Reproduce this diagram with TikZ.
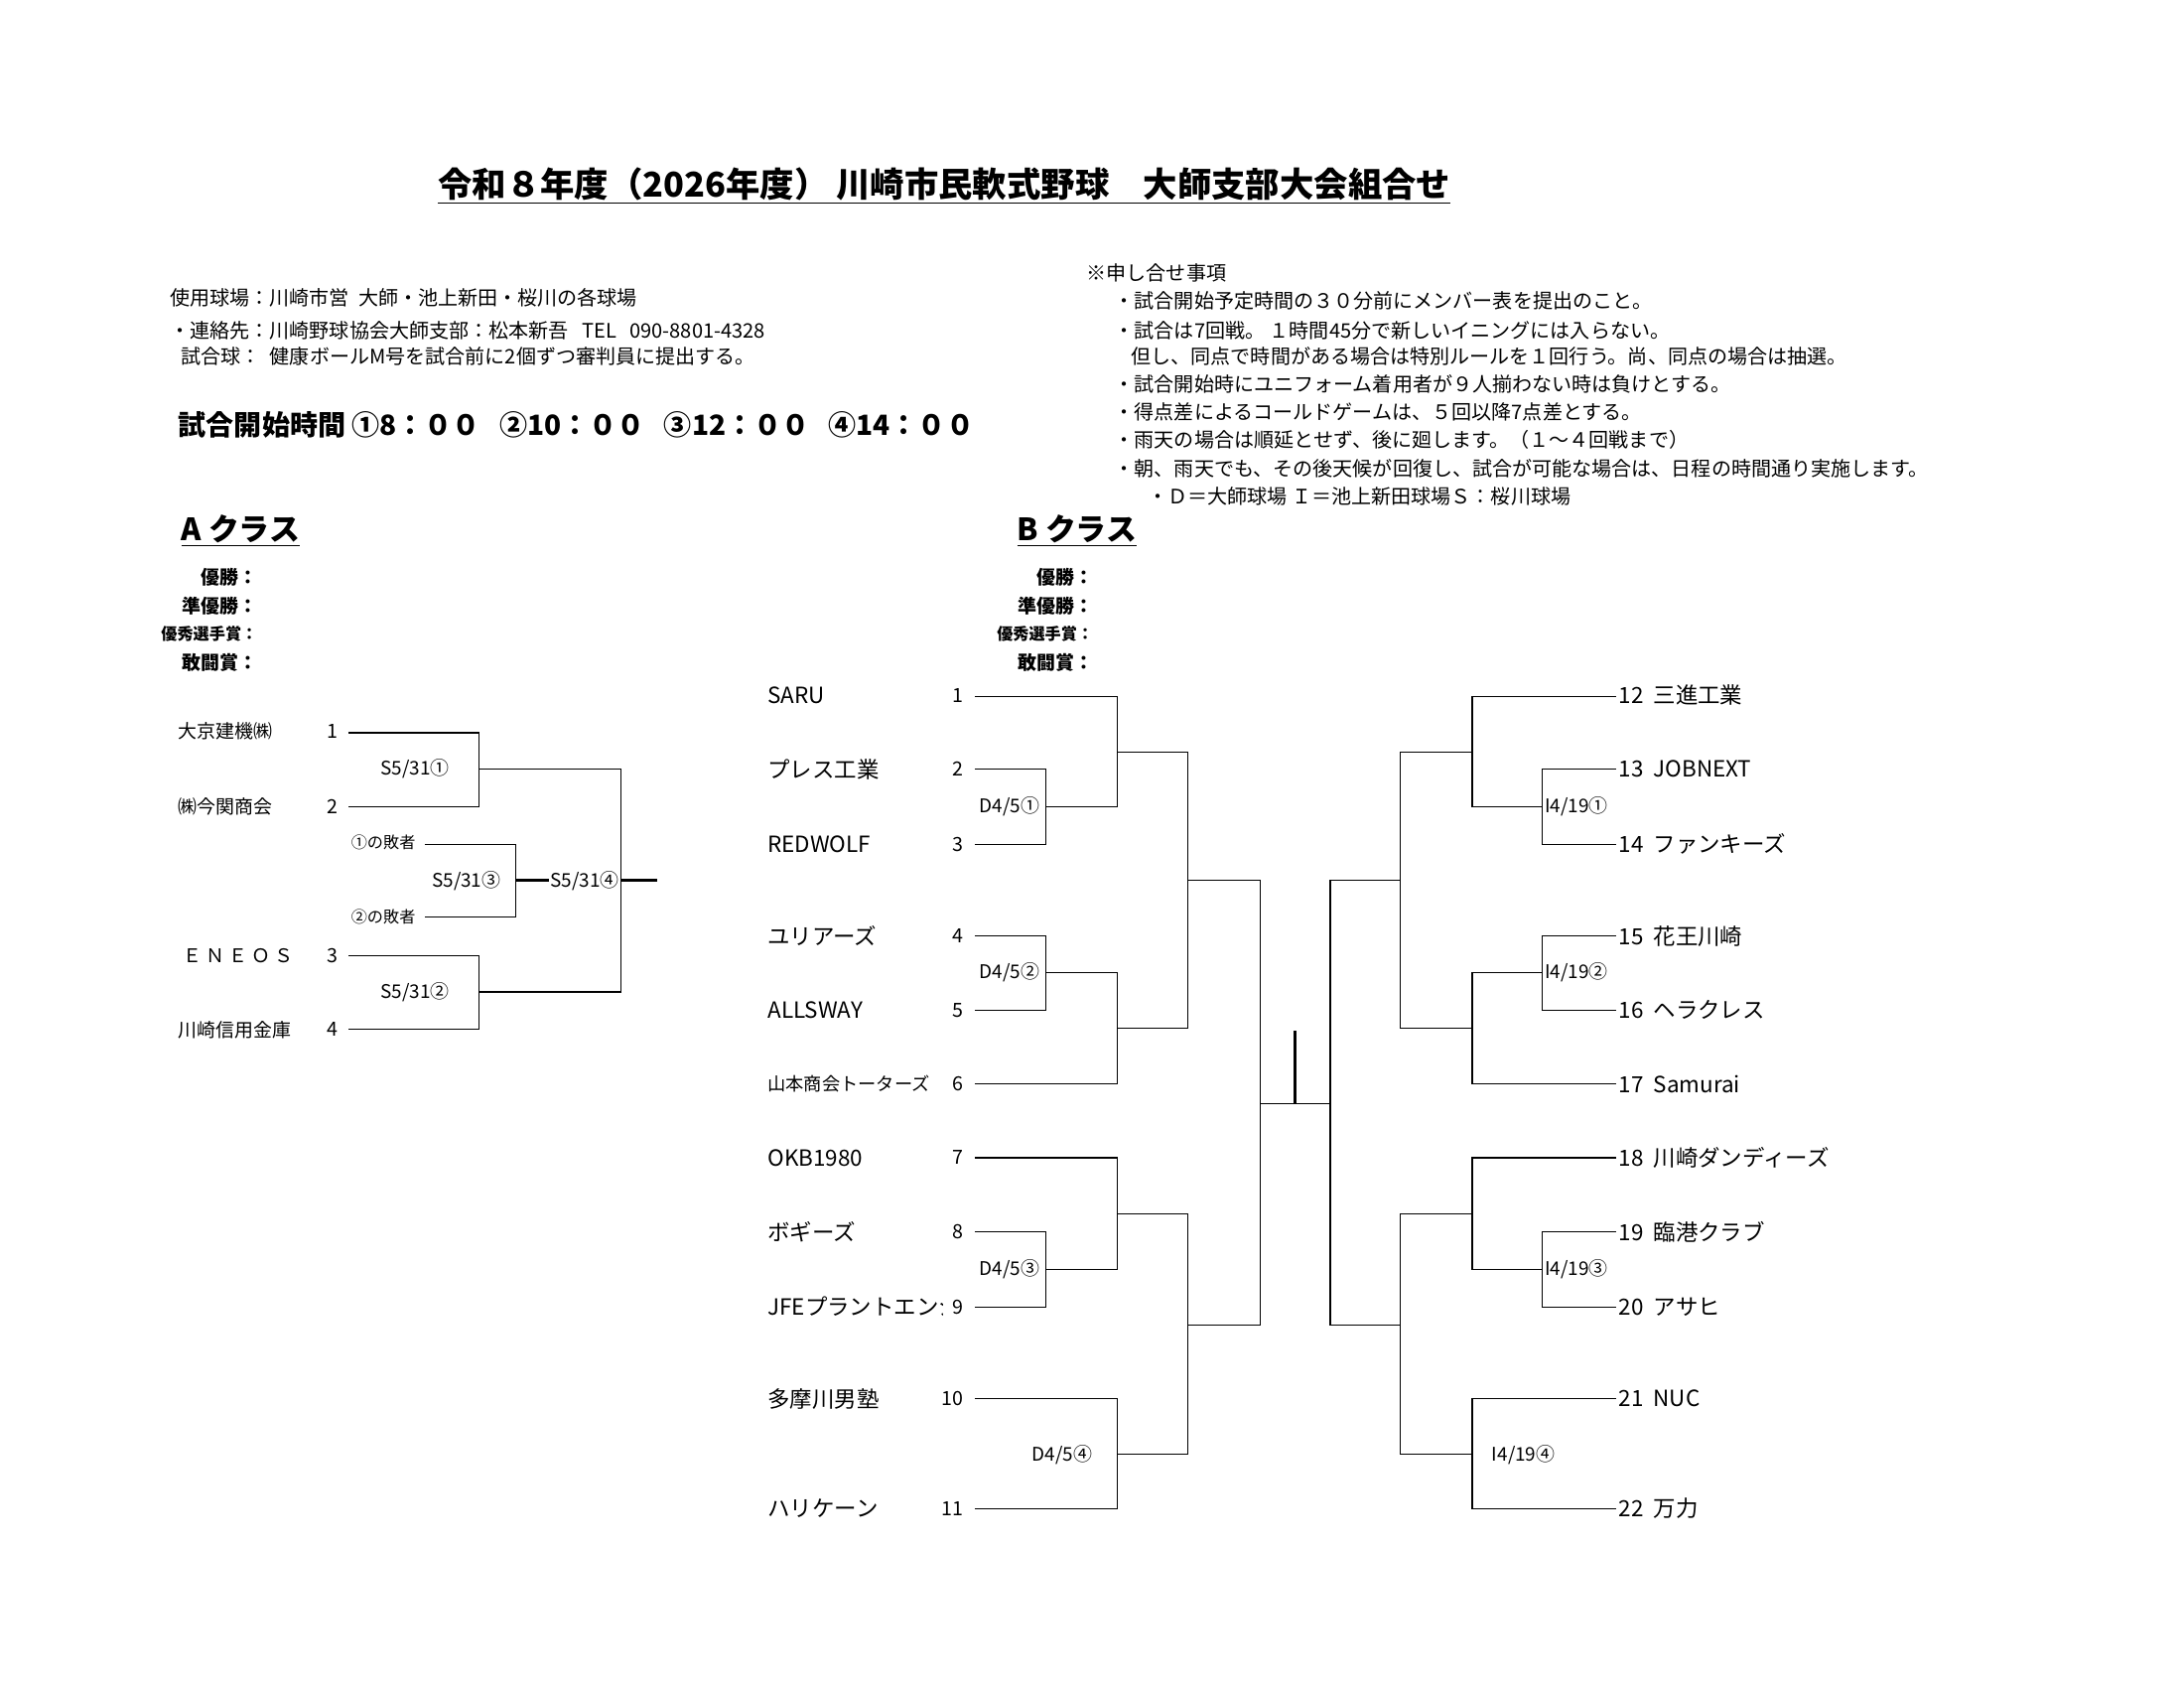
\documentclass[tikz,border=0pt]{standalone}
\usepackage{fontspec}
\setmainfont{Noto Sans CJK JP}
\begin{document}
\begin{tikzpicture}[x=1pt,y=-1pt,
 t/.style={anchor=west,inner sep=0pt,font=\fontsize{14.3}{15}\selectfont},
 nm/.style={anchor=west,inner sep=0pt,font=\fontsize{16}{17}\selectfont},
 num/.style={anchor=east,inner sep=0pt,font=\fontsize{14}{16}\selectfont},
 lb/.style={anchor=west,inner sep=0pt,font=\fontsize{13.5}{14}\selectfont},
 aw/.style={anchor=east,inner sep=0pt,font=\fontsize{13.5}{14}\selectfont\bfseries},
 br/.style={line width=0.8pt},
 thk/.style={line width=2pt}]
\useasboundingbox (0,0) rectangle (1568,1212);
\fill[white] (0,0) rectangle (1568,1212);
\node[inner sep=0pt,font=\fontsize{24.5}{27}\selectfont\bfseries] (title) at (678,133) {\underline{令和８年度（2026年度）\ 川崎市民軟式野球\quad 大師支部大会組合せ}};
\node[t] (i1) at (122,214) {使用球場：川崎市営\ \ 大師・池上新田・桜川の各球場};
\node[t] (i2) at (122,237) {・連絡先：川崎野球協会大師支部：松本新吾\ \ \ TEL\ \ \ 090-8801-4328};
\node[t] (i3) at (130,256) {試合球：\ \ 健康ボールM号を試合前に2個ずつ審判員に提出する。};
\node[anchor=west,inner sep=0pt,font=\fontsize{20}{22}\selectfont\bfseries] (time) at (128,305) {試合開始時間 ①8：００\ \ \ ②10：００\ \ \ ③12：００\ \ \ ④14：００};
\node[t] (n0) at (780,196) {※申し合せ事項};
\node[t] (n1) at (800,216) {・試合開始予定時間の３０分前にメンバー表を提出のこと。};
\node[t] (n2) at (800,237) {・試合は7回戦。\ １時間45分で新しいイニングには入らない。};
\node[t] (n3) at (812,256) {但し、同点で時間がある場合は特別ルールを１回行う。尚、同点の場合は抽選。};
\node[t] (n4) at (800,276) {・試合開始時にユニフォーム着用者が９人揃わない時は負けとする。};
\node[t] (n5) at (800,296) {・得点差によるコールドゲームは、５回以降7点差とする。};
\node[t] (n6) at (800,316) {・雨天の場合は順延とせず、後に廻します。（１～４回戦まで）};
\node[t] (n7) at (800,336) {・朝、雨天でも、その後天候が回復し、試合が可能な場合は、日程の時間通り実施します。};
\node[t] (n8) at (824,356) {・Ｄ＝大師球場\ Ｉ＝池上新田球場Ｓ：桜川球場};
\node[anchor=west,inner sep=0pt,font=\fontsize{22}{24}\selectfont\bfseries] (ca) at (130,381) {\underline{A\ クラス}};
\node[anchor=west,inner sep=0pt,font=\fontsize{22}{24}\selectfont\bfseries] (cb) at (730,381) {\underline{B\ クラス}};
\foreach \x/\p in {185/a,785/b}{
\node[aw] (\p1) at (\x,414) {優勝：};
\node[aw] (\p2) at (\x,435) {準優勝：};
\node[aw] (\p3) at (\x,455) {\fontsize{11.5}{12}\selectfont 優秀選手賞：};
\node[aw] (\p4) at (\x,476) {敢闘賞：};}
% A bracket
\node[lb] (A1) at (128,525) {大京建機㈱}; \node[num] at (243,525) {1};
\node[lb] (A2) at (128,579) {㈱今関商会}; \node[num] at (243,579) {2};
\node[lb] (A3) at (131,686) {Ｅ Ｎ Ｅ Ｏ Ｓ}; \node[num] at (243,686) {3};
\node[lb] (A4) at (128,739) {川崎信用金庫}; \node[num] at (243,739) {4};
\draw[br] (250,526)--(344,526)--(344,579)--(250,579);
\draw[br] (250,686)--(344,686)--(344,739)--(250,739);
\draw[br] (344,552)--(446,552)--(446,712)--(344,712);
\node[lb] at (273,552) {S5/31①}; \node[lb] at (273,712) {S5/31②};
\node[lb,font=\fontsize{11.5}{12}\selectfont] at (252,605) {①の敗者};
\node[lb,font=\fontsize{11.5}{12}\selectfont] at (252,658) {②の敗者};
\draw[br] (305,606)--(370,606)--(370,658)--(305,658);
\node[lb] at (310,632) {S5/31③};
\draw[thk] (370,632)--(472,632);
\node[lb,fill=white,inner sep=1pt] at (394,632) {S5/31④};
% B left
\foreach \y/\n/\s in {499/1/SARU,552/2/プレス工業,606/3/REDWOLF,672/4/ユリアーズ,725/5/ALLSWAY,831/7/OKB1980,884/8/ボギーズ,1004/10/多摩川男塾,1083/11/ハリケーン}{
 \node[nm] (L\n) at (551,\y) {\s}; \node[num] at (692,\y) {\n};}
\begin{scope}
\clip (545,760) rectangle (677,950);
\node[nm,font=\fontsize{13}{14}\selectfont] (L6) at (551,778) {山本商会トーターズ};
\node[nm] (L9) at (551,938) {JFEプラントエンジ};
\end{scope}
\node[num] at (692,778) {6}; \node[num] at (692,938) {9};
\draw[br] (700,500)--(802,500)--(802,579)--(751,579);
\draw[br] (700,552)--(751,552)--(751,606)--(700,606);
\draw[br] (700,672)--(751,672)--(751,725)--(700,725);
\draw[br] (751,698)--(802,698)--(802,778)--(700,778);
\draw[br] (700,831)--(802,831)--(802,911)--(751,911);
\draw[br] (700,884)--(751,884)--(751,938)--(700,938);
\draw[br] (700,1004)--(802,1004)--(802,1083)--(700,1083);
\draw[br] (802,540)--(853,540)--(853,738)--(802,738);
\draw[br] (802,871)--(853,871)--(853,1044)--(802,1044);
\draw[br] (853,632)--(905,632)--(905,951)--(853,951);
\draw[br] (905,792)--(955,792);
\draw[thk] (930,740)--(930,792);
\node[lb] at (703,579) {D4/5①}; \node[lb] at (703,698) {D4/5②};
\node[lb] at (703,911) {D4/5③}; \node[lb] at (741,1044) {D4/5④};
% B right
\foreach \y/\n/\s in {499/12/三進工業,552/13/JOBNEXT,606/14/ファンキーズ,672/15/花王川崎,725/16/ヘラクレス,778/17/Samurai,831/18/川崎ダンディーズ,884/19/臨港クラブ,938/20/アサヒ,1004/21/NUC,1083/22/万力}{
 \node[nm] (R\n) at (1162,\y) {\n\ \ \s};}
\draw[br] (1160,500)--(1057,500)--(1057,579)--(1107,579);
\draw[br] (1160,552)--(1107,552)--(1107,606)--(1160,606);
\draw[br] (1160,672)--(1107,672)--(1107,725)--(1160,725);
\draw[br] (1107,698)--(1057,698)--(1057,778)--(1160,778);
\draw[br] (1160,831)--(1057,831)--(1057,911)--(1107,911);
\draw[br] (1160,884)--(1107,884)--(1107,938)--(1160,938);
\draw[br] (1160,1004)--(1057,1004)--(1057,1083)--(1160,1083);
\draw[br] (1057,540)--(1005,540)--(1005,738)--(1057,738);
\draw[br] (1057,871)--(1005,871)--(1005,1044)--(1057,1044);
\draw[br] (1005,632)--(955,632)--(955,951)--(1005,951);
\node[lb] at (1109,579) {I4/19①}; \node[lb] at (1109,698) {I4/19②};
\node[lb] at (1109,911) {I4/19③}; \node[lb] at (1071,1044) {I4/19④};
\end{tikzpicture}
\end{document}
